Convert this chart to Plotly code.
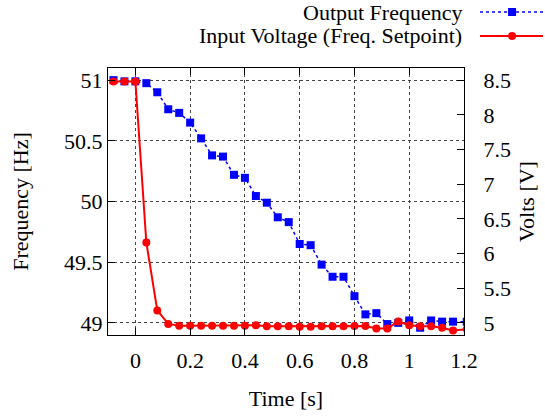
import plotly.graph_objects as go

# time stamps of the samples [s]
time_s = [-0.08, -0.04, 0.00, 0.04, 0.08, 0.12, 0.16, 0.20, 0.24, 0.28, 0.32,
          0.36, 0.40, 0.44, 0.48, 0.52, 0.56, 0.60, 0.64, 0.68, 0.72, 0.76,
          0.80, 0.84, 0.88, 0.92, 0.96, 1.00, 1.04, 1.08, 1.12, 1.16, 1.21]

# output frequency [Hz]
out_freq = [51.00, 50.99, 50.99, 50.975, 50.90, 50.76, 50.73, 50.65, 50.52,
            50.38, 50.37, 50.22, 50.195, 50.045, 49.99, 49.87, 49.83, 49.65,
            49.64, 49.48, 49.38, 49.38, 49.22, 49.07, 49.08, 48.99, 49.00,
            49.02, 48.96, 49.02, 49.01, 49.01, 49.01]

# input voltage (frequency setpoint) [V]
in_volt = [8.48, 8.48, 8.48, 6.16, 5.18, 4.985, 4.96, 4.96, 4.96, 4.96, 4.96,
           4.96, 4.96, 4.965, 4.95, 4.95, 4.95, 4.945, 4.945, 4.95, 4.95, 4.95,
           4.955, 4.955, 4.92, 4.92, 5.02, 4.965, 4.95, 4.95, 4.93, 4.89, 4.91]

FONT = "'Liberation Serif', 'Times New Roman', 'DejaVu Serif', serif"
BLUE = "#0000ff"
RED = "#ff0000"

fig = go.Figure()
fig.add_trace(go.Scatter(
    x=time_s, y=out_freq, name="Output Frequency", mode="lines+markers",
    line=dict(color=BLUE, width=1.5, dash="dot"),
    marker=dict(symbol="square", size=8, color=BLUE),
))
fig.add_trace(go.Scatter(
    x=time_s, y=in_volt, name="Input Voltage (Freq. Setpoint)", mode="lines+markers",
    yaxis="y2",
    line=dict(color=RED, width=2),
    marker=dict(symbol="circle", size=8, color=RED),
))

axis_common = dict(
    showline=True, linecolor="black", linewidth=1,
    ticks="inside", ticklen=7, tickcolor="black",
    tickfont=dict(family=FONT, size=22, color="black"),
    zeroline=False, automargin=False,
)

fig.update_layout(
    width=545, height=416,
    margin=dict(l=108, r=81, t=68, b=81),
    paper_bgcolor="white", plot_bgcolor="white",
    showlegend=False,
    font=dict(family=FONT, size=22, color="black"),
    xaxis=dict(
        range=[-0.1, 1.2], dtick=0.2, tick0=0, mirror="ticks",
        showgrid=True, gridcolor="#444", griddash="dot", gridwidth=1,
        ticklabelstandoff=6,
        title=dict(text="Time [s]", font=dict(family=FONT, size=22), standoff=18),
        **axis_common,
    ),
    yaxis=dict(
        range=[48.9, 51.1], dtick=0.5, tick0=49,
        showgrid=True, gridcolor="#444", griddash="dot", gridwidth=1,
        title=dict(text="Frequency [Hz]", font=dict(family=FONT, size=22), standoff=29),
        **axis_common,
    ),
    yaxis2=dict(
        range=[4.825, 8.675], dtick=0.5, tick0=5, overlaying="y", side="right",
        showgrid=False, ticklabelstandoff=14,
        title=dict(text="Volts [V]", font=dict(family=FONT, size=22), standoff=8),
        **axis_common,
    ),
)

# gnuplot-style key above the plot: text right-aligned, sample on the right
rows = [("Output Frequency", BLUE, "dot", 1.5, "square", 1.2097),
        ("Input Voltage (Freq. Setpoint)", RED, "solid", 2, "circle", 1.12)]
for label, col, dash, w, sym, yp in rows:
    fig.add_annotation(text=label, xref="paper", yref="paper", x=1.0, y=yp,
                       xanchor="right", yanchor="middle", showarrow=False,
                       font=dict(family=FONT, size=22, color="black"))
    fig.add_shape(type="line", xref="paper", yref="paper",
                  x0=1.045, x1=1.222, y0=yp, y1=yp,
                  line=dict(color=col, width=w, dash=dash))
    fig.add_shape(type="rect" if sym == "square" else "circle",
                  xref="paper", yref="paper", xsizemode="pixel", ysizemode="pixel",
                  xanchor=1.135, yanchor=yp, x0=-4, x1=4, y0=-4, y1=4,
                  fillcolor=col, line=dict(color=col, width=0))

fig.write_html("out.html", config={"displayModeBar": False},
               post_script="document.body.style.margin='0';")
